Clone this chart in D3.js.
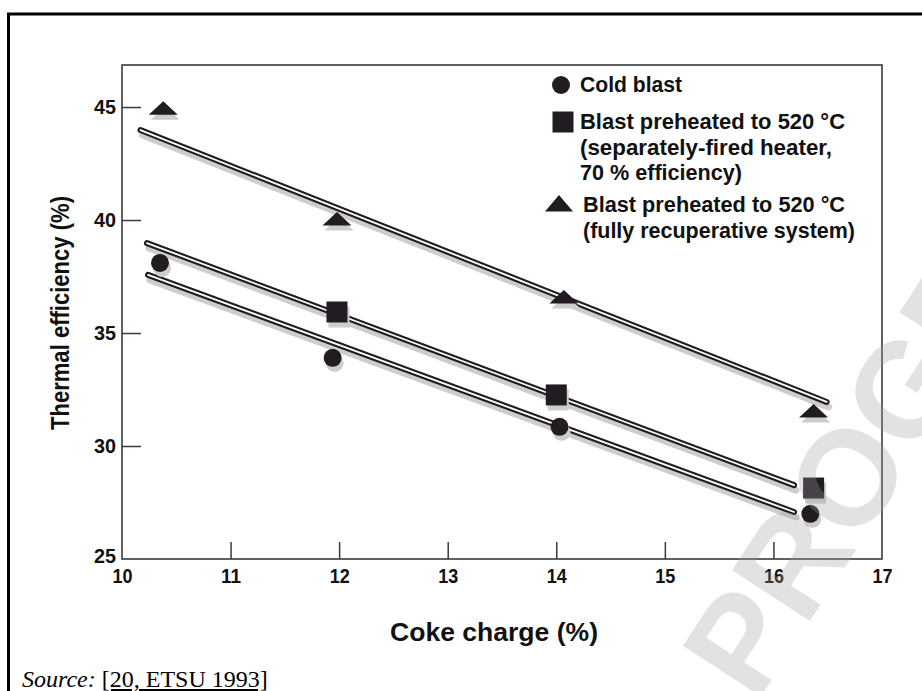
<!DOCTYPE html>
<html><head><meta charset="utf-8">
<script src="https://cdn.jsdelivr.net/npm/d3@7"></script>
<style>
html,body{margin:0;padding:0;background:#fff;}
svg{display:block;}
</style></head>
<body>
<svg id="chart" width="922" height="691"></svg>
<script>
// ---- data ----
const xTickValues = [10, 11, 12, 13, 14, 15, 16, 17];
const yTickValues = [25, 30, 35, 40, 45];

const coldX = [10.35, 11.94, 14.03, 16.34];
const coldY = [38.1, 33.9, 30.85, 27.0];

const sepX = [11.98, 14.0, 16.37];
const sepY = [35.93, 32.26, 28.14];

const recupX = [10.38, 11.98, 14.07, 16.37];
const recupY = [44.9, 40.0, 36.55, 31.5];

// fitted trend lines: [x1, x2] / [y1, y2]
const coldFitX = [10.24, 16.19];
const coldFitY = [37.57, 27.08];
const sepFitX = [10.23, 16.19];
const sepFitY = [38.98, 28.27];
const recupFitX = [10.17, 16.49];
const recupFitY = [43.98, 31.95];

const legendLines = [
  ["Cold blast"],
  ["Blast preheated to 520 °C", "(separately-fired heater,", "70 % efficiency)"],
  ["Blast preheated to 520 °C", "(fully recuperative system)"]
];

const xTitle = "Coke charge (%)";
const yTitle = "Thermal efficiency (%)";
const sourceLabel = "Source:";
const sourceRef = "[20, ETSU 1993]";
const watermark = "PROGRESS";

// ---- layout ----
const svg = d3.select("#chart");
const L = 122, R = 882, T = 65, B = 559;
const x = d3.scaleLinear().domain([10, 17]).range([L, R]);
const y = d3.scaleLinear().domain([25, 46.86]).range([B, T]);

const FONT = "'Liberation Sans', Arial, Helvetica, sans-serif";
const INK = "#221b21";
const SHADOW = "#cdcdcd";

// outer page frame (only left & top visible)
svg.append("path")
  .attr("d", "M8.5,700 V14 H940")
  .attr("fill", "none").attr("stroke", "#000").attr("stroke-width", 3);

// plot frame
svg.append("rect")
  .attr("x", x(10)).attr("y", y(46.86))
  .attr("width", x(17) - x(10)).attr("height", y(25) - y(46.86))
  .attr("fill", "none").attr("stroke", "#3a3a3a").attr("stroke-width", 1.6);

// axes
const xAxis = d3.axisBottom(x).tickValues(xTickValues).tickFormat(d3.format("d"))
  .tickSizeInner(-17).tickSizeOuter(0).tickPadding(9);
const gx = svg.append("g").attr("transform", `translate(0,${B})`).call(xAxis);
gx.select(".domain").remove();
gx.selectAll(".tick line").attr("stroke", "#3a3a3a").attr("stroke-width", 1.5)
  .filter(d => d === 10 || d === 17).remove();
gx.selectAll(".tick text").attr("font-family", FONT).attr("font-weight", "bold")
  .attr("font-size", 21).attr("fill", "#111").attr("textLength", 20).attr("lengthAdjust", "spacingAndGlyphs");

const yAxis = d3.axisLeft(y).tickValues(yTickValues).tickFormat(d3.format("d"))
  .tickSizeInner(-19).tickSizeOuter(0).tickPadding(6);
const gy = svg.append("g").attr("transform", `translate(${L},0)`).call(yAxis);
gy.select(".domain").remove();
gy.selectAll(".tick line").attr("stroke", "#3a3a3a").attr("stroke-width", 1.5)
  .filter(d => d === 25).remove();
gy.selectAll(".tick text").attr("font-family", FONT).attr("font-weight", "bold")
  .attr("font-size", 21).attr("fill", "#111").attr("textLength", 22).attr("lengthAdjust", "spacingAndGlyphs");
gy.selectAll(".tick text").filter(d => d === 25).attr("dy", "0.15em");

// axis titles
svg.append("text")
  .attr("x", 494).attr("y", 641).attr("text-anchor", "middle")
  .attr("font-family", FONT).attr("font-weight", "bold").attr("font-size", 25)
  .attr("textLength", 208).attr("lengthAdjust", "spacingAndGlyphs")
  .attr("fill", "#111").text(xTitle);
svg.append("text")
  .attr("transform", "translate(69,313) rotate(-90)").attr("text-anchor", "middle")
  .attr("font-family", FONT).attr("font-weight", "bold").attr("font-size", 25)
  .attr("textLength", 234).attr("lengthAdjust", "spacingAndGlyphs")
  .attr("fill", "#111").text(yTitle);

// trend lines (double line with drop shadow)
const fits = [
  {xs: recupFitX, ys: recupFitY},
  {xs: sepFitX, ys: sepFitY},
  {xs: coldFitX, ys: coldFitY}
];
const lineGen = d3.line().x(d => x(d[0])).y(d => y(d[1]));
fits.forEach(f => {
  const pts = f.xs.map((v, i) => [v, f.ys[i]]);
  svg.append("path").attr("d", lineGen(pts)).attr("transform", "translate(2,5)")
    .attr("fill", "none").attr("stroke", SHADOW).attr("stroke-width", 7).attr("stroke-linecap", "round");
});
fits.forEach(f => {
  const pts = f.xs.map((v, i) => [v, f.ys[i]]);
  svg.append("path").attr("d", lineGen(pts))
    .attr("fill", "none").attr("stroke", INK).attr("stroke-width", 6).attr("stroke-linecap", "round");
  svg.append("path").attr("d", lineGen(pts))
    .attr("fill", "none").attr("stroke", "#fff").attr("stroke-width", 1.8).attr("stroke-linecap", "round");
});

// markers
const circleSym = d3.symbol().type(d3.symbolCircle).size(Math.PI * 9 * 9);
const squareSym = d3.symbol().type(d3.symbolSquare).size(21 * 21);
const triPath = "M0,-8 L14.5,5.5 L-14.5,5.5 Z";

function drawMarkers(xs, ys, pathFn) {
  const data = xs.map((v, i) => [v, ys[i]]);
  svg.append("g").selectAll("path").data(data).join("path")
    .attr("d", pathFn).attr("transform", d => `translate(${x(d[0]) + 2},${y(d[1]) + 5})`)
    .attr("fill", SHADOW);
  svg.append("g").selectAll("path").data(data).join("path")
    .attr("d", pathFn).attr("transform", d => `translate(${x(d[0])},${y(d[1])})`)
    .attr("fill", INK);
}
drawMarkers(coldX, coldY, () => circleSym());
drawMarkers(sepX, sepY, () => squareSym());
drawMarkers(recupX, recupY, () => triPath);

// legend
const lg = svg.append("g");
lg.append("path").attr("d", circleSym()).attr("transform", "translate(561,85)").attr("fill", INK);
lg.append("path").attr("d", squareSym()).attr("transform", "translate(563,122)").attr("fill", INK);
lg.append("path").attr("d", "M0,-9 L14,7.5 L-14,7.5 Z").attr("transform", "translate(559,204)").attr("fill", INK);

const legendPos = [
  [{x: 580, y: 92, len: 102}],
  [{x: 580, y: 129, len: 265}, {x: 580, y: 155, len: 252}, {x: 580, y: 180, len: 162}],
  [{x: 583, y: 212, len: 262}, {x: 583, y: 238, len: 272}]
];
legendLines.forEach((lines, i) => {
  lines.forEach((t, j) => {
    const p = legendPos[i][j];
    lg.append("text").attr("x", p.x).attr("y", p.y)
      .attr("font-family", FONT).attr("font-weight", "bold").attr("font-size", 22)
      .attr("textLength", p.len).attr("lengthAdjust", "spacingAndGlyphs")
      .attr("fill", "#111").text(t);
  });
});

// source line
const src = svg.append("text").attr("x", 22).attr("y", 687)
  .attr("font-family", "'Liberation Serif', 'Times New Roman', serif").attr("font-size", 24).attr("fill", "#000");
src.append("tspan").attr("font-style", "italic").text(sourceLabel + " ");
src.append("tspan").attr("text-decoration", "underline").text(sourceRef);

// watermark
svg.append("text")
  .attr("transform", "translate(756,704) rotate(-57)")
  .attr("font-family", FONT).attr("font-weight", "bold").attr("font-size", 135)
  .attr("fill", "#a0a0a0").attr("fill-opacity", 0.3).text(watermark);
</script>
</body></html>
